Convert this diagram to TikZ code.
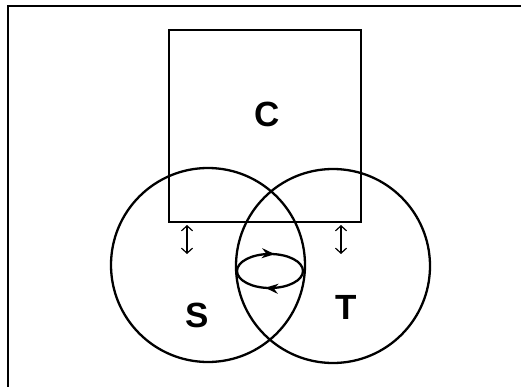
\documentclass[tikz,border=0pt]{standalone}
\usepackage{fontspec}
\setmainfont{Liberation Sans}
\usetikzlibrary{arrows.meta,decorations.markings}
\begin{document}
\begin{tikzpicture}[x=1pt,y=-1pt,
  thick line/.style={line width=2.3pt},
  setcircle/.style={circle,draw,thick line,minimum size=194pt,inner sep=0pt},
  biglabel/.style={font=\fontsize{35}{40}\selectfont\bfseries,inner sep=0pt},
  dbl/.style={line width=1.2pt,{Straight Barb[length=5pt,width=11pt]}-{Straight Barb[length=5pt,width=11pt]}},
  flow/.style={thick line,postaction={decorate,decoration={markings,
     mark=at position 0.28 with {\arrow{Stealth[length=13pt,width=10pt]}},
     mark=at position 0.78 with {\arrow{Stealth[length=13pt,width=10pt]}}}}}
]
\useasboundingbox (0,0) rectangle (521,387);
% frame (left and top edges)
\coordinate (fb) at (8,387);
\coordinate (fc) at (8,6);
\coordinate (fr) at (521,6);
\draw[line width=2.8pt] (fb) -- (fc) -- (fr);
% box C
\node[draw,thick line,minimum width=192pt,minimum height=192pt,inner sep=0pt] (Cbox) at (265,126) {};
\node[biglabel] (C) at (267,114) {C};
% circles
\node[setcircle] (Scirc) at (208,265) {};
\node[setcircle] (Tcirc) at (333,266) {};
\node[biglabel] (S) at (197,315) {S};
\node[biglabel] (T) at (346,307) {T};
% interaction loop
\draw[flow] (270,271) ellipse (33 and 17);
% double arrows
\coordinate (a1) at (187,225);
\coordinate (b1) at (187,254);
\coordinate (a2) at (341,225);
\coordinate (b2) at (341,254);
\draw[dbl] (a1) -- (b1);
\draw[dbl] (a2) -- (b2);
\end{tikzpicture}
\end{document}
